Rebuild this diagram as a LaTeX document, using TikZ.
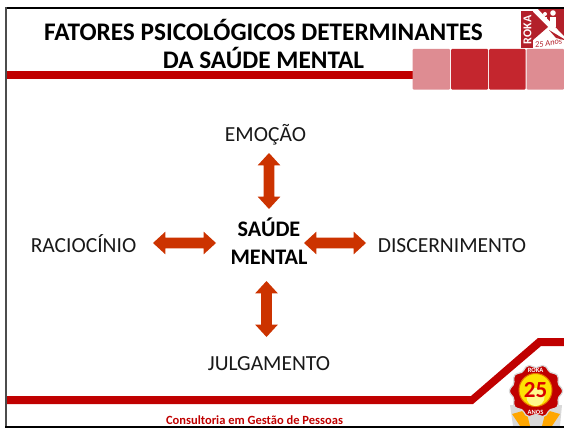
\documentclass[tikz,border=0pt]{standalone}
\usepackage{fontspec}
\setmainfont{Carlito}
\usetikzlibrary{shapes.arrows}
\definecolor{barred}{HTML}{C00000}
\definecolor{arrowred}{HTML}{CC3300}
\definecolor{sqdark}{HTML}{C4262E}
\definecolor{sqlight}{HTML}{DE8C92}
\definecolor{logored}{HTML}{B3202A}
\tikzset{
  x=1pt,y=-1pt,
  lbl/.style={font=\fontsize{21.5}{21.5}\selectfont,inner sep=0pt,text=black!90,anchor=base},
  centrelbl/.style={font=\fontsize{22.2}{28}\selectfont\bfseries,align=center,inner sep=0pt},
  titlelbl/.style={font=\fontsize{25.3}{28}\selectfont\bfseries,align=center,inner sep=0pt},
  darr/.style={double arrow,fill=arrowred,draw=none,inner xsep=0pt,inner ysep=5.2pt,
    double arrow head extend=6pt,double arrow tip angle=85},
  sq/.style={rounded corners=1pt,draw=none},
}
\begin{document}
\begin{tikzpicture}
\useasboundingbox (0,0) rectangle (564,428);
\fill[white] (0,0) rectangle (564,428);
% header
\fill[barred] (7,71) rectangle (413,79);
\fill[sq,sqlight] (412.5,49) rectangle (450,89.5);
\fill[sq,sqdark] (451,49) rectangle (488,89.5);
\fill[sq,sqdark] (489,49) rectangle (525.5,89.5);
\fill[sq,sqlight] (526.5,49) rectangle (564,89.5);
\node[titlelbl] (title) at (263.5,44) {FATORES PSICOLÓGICOS DETERMINANTES\\DA SAÚDE MENTAL};
% logo
\fill[logored] (521,11) rectangle (533,48);
\node[rotate=90,text=white,font=\fontsize{12}{12}\selectfont\bfseries,inner sep=0pt] (roka) at (527.5,30) {ROKA};
\fill[logored] (533,12) -- (548,27) -- (533,40) -- cycle;
\fill[logored] (538,9) -- (564,9) -- (564,36) -- cycle;
\fill[logored] (549,30) -- (564,39) -- (564,40) -- (556,38) -- cycle;
\fill[white] (545,14) circle (2);
\fill[white] (544,17) rectangle (547,23);
\fill[white] (553,13) circle (2.8);
\fill[white] (550,17) rectangle (556,27);
\node[font=\fontsize{8.5}{8.5}\selectfont\itshape,text=logored,inner sep=0pt,rotate=8] (anos) at (548.5,43) {25 Anos};
% footer
\fill[barred] (7,396) -- (471,396) -- (538,338) -- (564,338) -- (564,346) -- (541,346) -- (473,404) -- (7,404) -- cycle;
\node[font=\fontsize{12.5}{12.5}\selectfont\bfseries,text=barred,inner sep=0pt] (foot) at (254.5,420) {Consultoria em Gestão de Pessoas};
% seal
\fill[black!15] (510,405) -- (562,405) -- (560,426) -- (513,426) -- cycle;
\fill[orange!70!yellow] (512,414) -- (520,426) -- (530,426) -- (526,410) -- cycle;
\fill[orange!70!yellow] (560,414) -- (552,426) -- (542,426) -- (546,410) -- cycle;
\fill[barred,draw=black!15,line width=1.2pt]
  plot[smooth cycle,samples=48,domain=0:352.5] ({536+(25+1.6*cos(10*\x))*cos(\x)},{391+(25+1.6*cos(10*\x))*sin(\x)});
\fill[yellow!85!orange,draw=orange!90!black,line width=1pt] (535.5,390) circle (16.5);
\fill[yellow!45] (535.5,397) circle (9);
\node[font=\fontsize{23}{23}\selectfont\bfseries,text=red!85!black,inner sep=0pt] (num) at (535.5,390) {25};
\node[font=\fontsize{6.5}{6.5}\selectfont\bfseries,text=white,inner sep=0pt] (sa) at (535.5,370.5) {ROKA};
\node[font=\fontsize{6.5}{6.5}\selectfont\bfseries,text=white,inner sep=0pt] (sb) at (535.5,412.5) {ANOS};
% frame
\fill[black] (5,7) rectangle (564,9);
\fill[black!70] (5,7) rectangle (7,428);
\fill[black] (5,425.5) rectangle (564,427.5);
% diagram
\node[centrelbl] (centre) at (269,241) {SAÚDE\\MENTAL};
\node[lbl] (top) at (265.5,141) {EMOÇÃO};
\node[lbl] (left) at (83.5,252) {RACIOCÍNIO};
\node[lbl] (right) at (452,252) {DISCERNIMENTO};
\node[lbl] (bottom) at (269,370) {JULGAMENTO};
\node[darr,rotate=90,minimum height=56pt] (atop) at (269,181) {};
\node[darr,minimum height=63pt] (aleft) at (184.5,243) {};
\node[darr,minimum height=62pt] (aright) at (335,243) {};
\node[darr,rotate=90,minimum height=56pt] (abot) at (266.5,309) {};
\end{tikzpicture}
\end{document}
